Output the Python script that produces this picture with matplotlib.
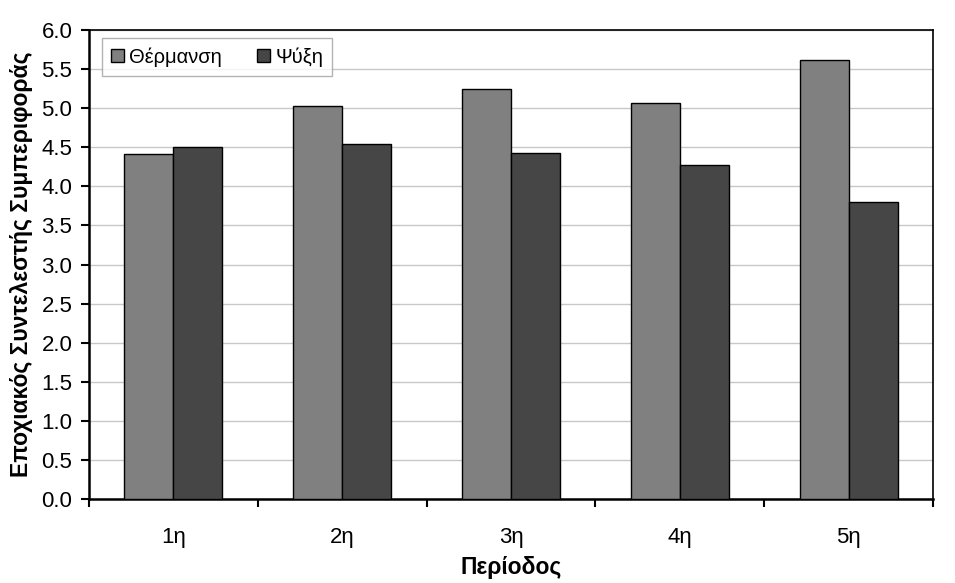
#!/usr/bin/env python3
"""Εποχιακός συντελεστής συμπεριφοράς ανά περίοδο (θέρμανση / ψύξη)."""

import matplotlib

matplotlib.use("Agg")
import matplotlib.pyplot as plt
import numpy as np

periods = ["1η", "2η", "3η", "4η", "5η"]
heating = [4.42, 5.03, 5.25, 5.06, 5.61]
cooling = [4.50, 4.54, 4.43, 4.27, 3.80]

plt.rcParams["font.family"] = ["Liberation Sans", "DejaVu Sans"]

fig = plt.figure(figsize=(9.55, 5.83), dpi=100)
ax = fig.add_axes([89 / 955, 1 - 499 / 583, 844 / 955, 469 / 583])

x = np.arange(len(periods))
width = 0.29
ax.bar(x - width / 2, heating, width=width, color="#808080", edgecolor="black",
       linewidth=1.0, label="Θέρμανση", zorder=3)
ax.bar(x + width / 2, cooling, width=width, color="#464646", edgecolor="black",
       linewidth=1.0, label="Ψύξη", zorder=3)

ax.set_xlim(-0.5, len(periods) - 0.5)
ax.set_ylim(0, 6.0)
yticks = np.arange(0, 6.01, 0.5)
ax.set_yticks(yticks)
ax.set_yticklabels([f"{v:.1f}" for v in yticks], fontsize=16)
ax.set_xticks(x)
ax.set_xticklabels(periods, fontsize=16)
ax.set_xticks(np.arange(-0.5, len(periods), 1.0), minor=True)
ax.tick_params(axis="x", which="major", length=0, pad=20)
ax.tick_params(axis="x", which="minor", length=6, width=1.5, direction="out")
ax.tick_params(axis="y", length=6, width=1.5, direction="out", pad=6)

ax.grid(True, axis="y", color="#c8c8c8", linewidth=1.0, zorder=0)
ax.set_axisbelow(True)
for side in ("left", "bottom"):
    ax.spines[side].set_linewidth(1.8)
for side in ("top", "right"):
    ax.spines[side].set_linewidth(1.2)

ax.set_xlabel("Περίοδος", fontsize=16.5, fontweight="bold", labelpad=6)
ax.set_ylabel("Εποχιακός Συντελεστής Συμπεριφοράς", fontsize=16.5,
              fontweight="bold", labelpad=6)

leg = ax.legend(loc="upper left", bbox_to_anchor=(0.0154, 0.983), ncol=2,
                fontsize=14.5, frameon=True, fancybox=False, borderaxespad=0,
                handlelength=0.65, handleheight=0.65, handletextpad=0.25,
                columnspacing=1.75, borderpad=0.45)
leg.get_frame().set_edgecolor("#a0a0a0")
leg.get_frame().set_linewidth(1.0)

fig.savefig("out.png")
plt.close(fig)
